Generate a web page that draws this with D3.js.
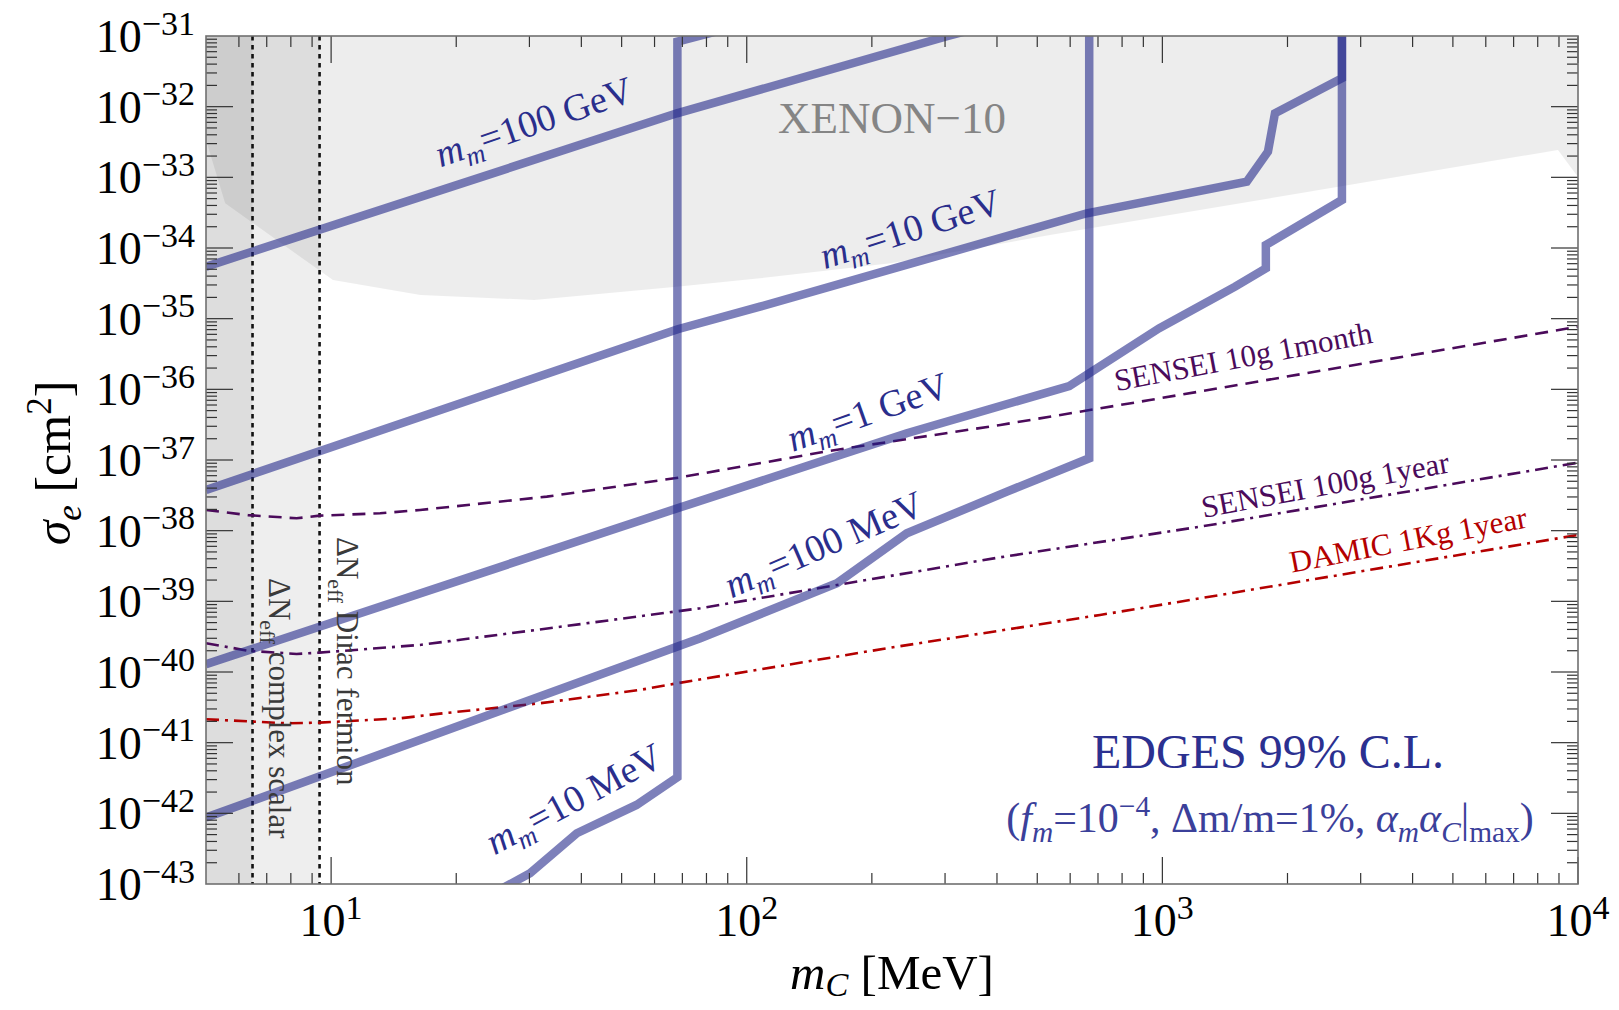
<!DOCTYPE html>
<html>
<head>
<meta charset="utf-8">
<script src="https://cdn.jsdelivr.net/npm/d3@7"></script>
<style>
  body { margin: 0; background: #fff; }
  svg { display: block; }
  text { font-family: "Liberation Serif", "Times New Roman", serif; }
</style>
</head>
<body>
<svg id="chart" width="1619" height="1010"></svg>
<script>
// ---------- data: m_C in MeV, sigma_e in cm^2 ----------
// EDGES 99% C.L. curves for several millicharge masses m_m
const m10MeV    = [25.1, 30.1, 39.0, 54.3, 68.1, 68.1, 89.1];
const s10MeV    = [7.94e-44, 1.419e-43, 5.22e-43, 1.315e-42, 3.24e-42, 8.32e-32, 1.26e-31];

const m100MeV   = [5, 77.3, 164.8, 242.7, 422.7, 666.8, 666.8];
const s100MeV   = [8.71e-43, 3.0e-40, 1.80e-39, 9.18e-39, 3.56e-38, 1.057e-37, 1.6e-31];

const m1GeV     = [5, 68.4, 242.7, 597, 982, 1496, 1774, 1774, 2704, 2704];
const s1GeV     = [1.288e-40, 2.09e-38, 2.39e-37, 1.114e-36, 7.31e-36, 2.84e-35, 5.16e-35, 1.104e-34, 4.78e-34, 1.6e-31];

const m10GeV    = [5, 68.2, 107.6, 658, 1596, 1795, 1866, 2704, 2704];
const s10GeV    = [3.77e-38, 7.08e-36, 1.476e-35, 3.10e-34, 8.67e-34, 2.31e-33, 8.05e-33, 2.52e-32, 1.6e-31];

const m100GeV   = [5, 67.9, 305, 360];
const s100GeV   = [5.44e-35, 8.05e-33, 1.0e-31, 1.3e-31];

// projected sensitivities
const mSensei10g  = [5, 6.31, 8.26, 9.38, 13.12, 16.37, 33.04, 68.5, 158.5, 407.4, 933.3, 10000];
const sSensei10g  = [1.963e-38, 1.66e-38, 1.496e-38, 1.63e-38, 1.762e-38, 1.963e-38, 3.03e-38, 5.62e-38, 1.349e-37, 3.13e-37, 7.06e-37, 7.69e-36];

const mSensei100g = [5, 6.31, 8.26, 9.38, 16.37, 31.6, 77.3, 407.4, 1233, 10000];
const sSensei100g = [2.553e-40, 2.0e-40, 1.8e-40, 1.88e-40, 2.415e-40, 3.98e-40, 7.98e-40, 4.2e-39, 1.138e-38, 9.16e-38];

const mDamic      = [5, 7.82, 9.38, 14.66, 18.28, 31.84, 55.3, 67.9, 217.3, 707.9, 1233, 10000];
const sDamic      = [2.143e-41, 1.879e-41, 1.919e-41, 2.213e-41, 2.576e-41, 3.61e-41, 5.57e-41, 6.92e-41, 2.168e-40, 6.41e-40, 1.104e-39, 8.69e-39];

// XENON-10 excluded region (lower boundary)
const mXenon = [5, 5.56, 10.1, 16.4, 30.8, 67.9, 107.6, 222, 537, 1718, 8950, 10000];
const sXenon = [3.37e-33, 4.30e-34, 3.52e-35, 2.16e-35, 1.84e-35, 2.84e-35, 3.72e-35, 6.08e-35, 1.53e-34, 4.78e-34, 2.44e-33, 1.01e-33];

// Delta N_eff bounds (m_C below these values excluded)
const neffComplexScalar = 6.47;
const neffDiracFermion  = 9.38;

// axis ticks
const xMajor = [10, 100, 1000, 10000];
const xMajorExp = [1, 2, 3, 4];
const yMajorExp = [-31, -32, -33, -34, -35, -36, -37, -38, -39, -40, -41, -42, -43];

// ---------- layout ----------
const margin = { left: 206, right: 1578, top: 36, bottom: 884 };
const x = d3.scaleLog().domain([5, 1e4]).range([margin.left, margin.right]);
const y = d3.scaleLog().domain([1e-43, 1e-31]).range([margin.bottom, margin.top]);

const svg = d3.select("#chart");
const zip = (a, b) => a.map((v, i) => [v, b[i]]);
const line = d3.line().x(d => x(d[0])).y(d => y(d[1]));

svg.append("defs").append("clipPath").attr("id", "plotClip")
  .append("rect")
  .attr("x", margin.left).attr("y", margin.top)
  .attr("width", margin.right - margin.left)
  .attr("height", margin.bottom - margin.top);

const plot = svg.append("g").attr("clip-path", "url(#plotClip)");

// rich text helper: italic / subscript / superscript runs
function rich(sel, parts, size, opt = {}) {
  const subShift = opt.sub ?? 0.28, supShift = opt.sup ?? 0.39, scale = opt.scale ?? 0.7;
  let shift = 0;
  parts.forEach(p => {
    const t = sel.append("tspan").text(p.t);
    let target = 0, fs = size;
    if (p.sub) { target = size * subShift; fs = size * scale; }
    if (p.sup) { target = -size * supShift; fs = size * scale; }
    t.attr("font-size", fs);
    const dy = target - shift;
    if (dy) t.attr("dy", dy);
    shift = target;
    if (p.it) t.attr("font-style", "italic");
  });
  return sel;
}

// ---------- shaded regions ----------
plot.append("rect")
  .attr("x", x(5)).attr("y", margin.top)
  .attr("width", x(neffDiracFermion) - x(5))
  .attr("height", margin.bottom - margin.top)
  .attr("fill", "#000").attr("fill-opacity", 0.065);
plot.append("rect")
  .attr("x", x(5)).attr("y", margin.top)
  .attr("width", x(neffComplexScalar) - x(5))
  .attr("height", margin.bottom - margin.top)
  .attr("fill", "#000").attr("fill-opacity", 0.07);

const xenonPts = [[5, 1e-30]].concat(zip(mXenon, sXenon), [[10000, 1e-30]]);
plot.append("path")
  .attr("d", line(xenonPts) + "Z")
  .attr("fill", "#000").attr("fill-opacity", 0.072);

// dotted Delta N_eff boundaries
[neffComplexScalar, neffDiracFermion].forEach(v => {
  plot.append("line")
    .attr("x1", x(v)).attr("x2", x(v))
    .attr("y1", margin.top).attr("y2", margin.bottom)
    .attr("stroke", "#111").attr("stroke-width", 2.6)
    .attr("stroke-dasharray", "4.5 4.5");
});

// ---------- projected sensitivity curves ----------
const proj = [
  { m: mSensei10g, s: sSensei10g, color: "#4b0b5b", dash: "13 8" },
  { m: mSensei100g, s: sSensei100g, color: "#4b0b5b", dash: "13 6 3 6" },
  { m: mDamic, s: sDamic, color: "#b40000", dash: "13 6 3 6" }
];
proj.forEach(c => {
  plot.append("path")
    .attr("d", line(zip(c.m, c.s)))
    .attr("fill", "none").attr("stroke", c.color)
    .attr("stroke-width", 2.6).attr("stroke-dasharray", c.dash);
});

// ---------- EDGES curves ----------
const edges = [
  [m10MeV, s10MeV], [m100MeV, s100MeV], [m1GeV, s1GeV],
  [m10GeV, s10GeV], [m100GeV, s100GeV]
];
edges.forEach(([m, s]) => {
  plot.append("path")
    .attr("d", line(zip(m, s)))
    .attr("fill", "none").attr("stroke", "#1f2488")
    .attr("stroke-opacity", 0.58).attr("stroke-width", 8.5)
    .attr("stroke-linejoin", "miter").attr("stroke-linecap", "butt");
});

// ---------- frame and ticks ----------
const axes = svg.append("g");
const tickColor = "#333";
function xTick(v, major) {
  const len = major ? 27 : 11;
  axes.append("line").attr("x1", x(v)).attr("x2", x(v))
    .attr("y1", margin.bottom).attr("y2", margin.bottom - len)
    .attr("stroke", tickColor).attr("stroke-width", 1.2);
  axes.append("line").attr("x1", x(v)).attr("x2", x(v))
    .attr("y1", margin.top).attr("y2", margin.top + len)
    .attr("stroke", tickColor).attr("stroke-width", 1.2);
}
function yTick(v, major) {
  const len = major ? 27 : 11;
  axes.append("line").attr("x1", margin.left).attr("x2", margin.left + len)
    .attr("y1", y(v)).attr("y2", y(v))
    .attr("stroke", tickColor).attr("stroke-width", 1.2);
  axes.append("line").attr("x1", margin.right).attr("x2", margin.right - len)
    .attr("y1", y(v)).attr("y2", y(v))
    .attr("stroke", tickColor).attr("stroke-width", 1.2);
}
[1, 10, 100, 1000].forEach(d => {
  for (let k = 1; k <= 9; k++) {
    const v = k * d;
    if (v > 5 && v < 1e4) xTick(v, k === 1);
  }
});
xTick(1e4, true);
for (let e = -43; e <= -32; e++) {
  for (let k = 1; k <= 9; k++) {
    const v = k * Math.pow(10, e);
    if (k === 1 && e === -43) continue;
    yTick(v, k === 1);
  }
}

axes.append("rect")
  .attr("x", margin.left).attr("y", margin.top)
  .attr("width", margin.right - margin.left)
  .attr("height", margin.bottom - margin.top)
  .attr("fill", "none").attr("stroke", "#707070").attr("stroke-width", 1.6);

// tick labels
const tickFont = 46;
const tickOpt = { scale: 0.74, sup: 0.38 };
xMajor.forEach((v, i) => {
  const t = axes.append("text")
    .attr("x", x(v)).attr("y", 936)
    .attr("text-anchor", "middle").attr("font-size", tickFont).attr("fill", "#000");
  rich(t, [{ t: "10" }, { t: String(xMajorExp[i]), sup: true }], tickFont, tickOpt);
});
yMajorExp.forEach(e => {
  const t = axes.append("text")
    .attr("x", 195).attr("y", y(Math.pow(10, e)) + 16)
    .attr("text-anchor", "end").attr("font-size", tickFont).attr("fill", "#000");
  rich(t, [{ t: "10" }, { t: "\u2212" + Math.abs(e), sup: true }], tickFont, tickOpt);
});

// axis titles
const xt = svg.append("text").attr("x", 892).attr("y", 989)
  .attr("text-anchor", "middle").attr("font-size", 49).attr("fill", "#000");
rich(xt, [{ t: "m", it: true }, { t: "C", it: true, sub: true }, { t: " [MeV]" }], 49, { sub: 0.15 });

const yt = svg.append("text").attr("transform", "translate(70,463) rotate(-90)")
  .attr("text-anchor", "middle").attr("font-size", 50).attr("fill", "#000");
rich(yt, [{ t: "\u03c3", it: true }, { t: "e", it: true, sub: true }, { t: " [cm" }, { t: "2", sup: true }, { t: "]" }], 50, { sub: 0.22 });

// ---------- annotations ----------
const ann = svg.append("g");

ann.append("text").attr("x", 892).attr("y", 133)
  .attr("text-anchor", "middle").attr("font-size", 45).attr("fill", "#858585")
  .text("XENON\u221210");

const blueText = "#2a2e8c";
const curveLabels = [
  { txt: "100 GeV", cx: 538, cy: 134, a: -19 },
  { txt: "10 GeV", cx: 914, cy: 241, a: -17.5 },
  { txt: "1 GeV", cx: 872, cy: 424, a: -19.5 },
  { txt: "100 MeV", cx: 829, cy: 556, a: -23.5 },
  { txt: "10 MeV", cx: 580, cy: 810, a: -28 }
];
curveLabels.forEach(l => {
  const t = ann.append("text")
    .attr("transform", `translate(${l.cx},${l.cy}) rotate(${l.a})`)
    .attr("text-anchor", "middle").attr("font-size", 38).attr("fill", blueText);
  rich(t, [{ t: "m", it: true }, { t: "m", it: true, sub: true }, { t: "=" + l.txt }], 38, { sub: 0.22 });
});

const projLabels = [
  { txt: "SENSEI 10g 1month", cx: 1245, cy: 367, a: -10.7, color: "#4b0b5b" },
  { txt: "SENSEI 100g 1year", cx: 1327, cy: 495, a: -10.5, color: "#4b0b5b" },
  { txt: "DAMIC 1Kg 1year", cx: 1410, cy: 550, a: -10.9, color: "#b40000" }
];
projLabels.forEach(l => {
  ann.append("text")
    .attr("transform", `translate(${l.cx},${l.cy}) rotate(${l.a})`)
    .attr("text-anchor", "middle").attr("font-size", 31).attr("fill", l.color)
    .text(l.txt);
});

const n1 = ann.append("text").attr("transform", "translate(269,578) rotate(90)")
  .attr("font-size", 31).attr("fill", "#3a3a3a");
rich(n1, [{ t: "\u0394N" }, { t: "eff", sub: true }, { t: " complex scalar" }], 31);
const n2 = ann.append("text").attr("transform", "translate(337,537) rotate(90)")
  .attr("font-size", 31).attr("fill", "#3a3a3a");
rich(n2, [{ t: "\u0394N" }, { t: "eff", sub: true }, { t: " Dirac fermion" }], 31);

ann.append("text").attr("x", 1268).attr("y", 768)
  .attr("text-anchor", "middle").attr("font-size", 48).attr("fill", "#2b3090")
  .text("EDGES 99% C.L.");
const sub = ann.append("text").attr("x", 1270).attr("y", 832)
  .attr("text-anchor", "middle").attr("font-size", 42).attr("fill", "#3b409a");
rich(sub, [
  { t: "(" }, { t: "f", it: true }, { t: "m", it: true, sub: true },
  { t: "=10" }, { t: "\u22124", sup: true },
  { t: ", \u0394m/m=1%, " },
  { t: "\u03b1", it: true }, { t: "m", it: true, sub: true },
  { t: "\u03b1", it: true }, { t: "C", it: true, sub: true },
  { t: "|" }, { t: "max", sub: true }, { t: ")" }
], 42, { sub: 0.24 });
</script>
</body>
</html>
